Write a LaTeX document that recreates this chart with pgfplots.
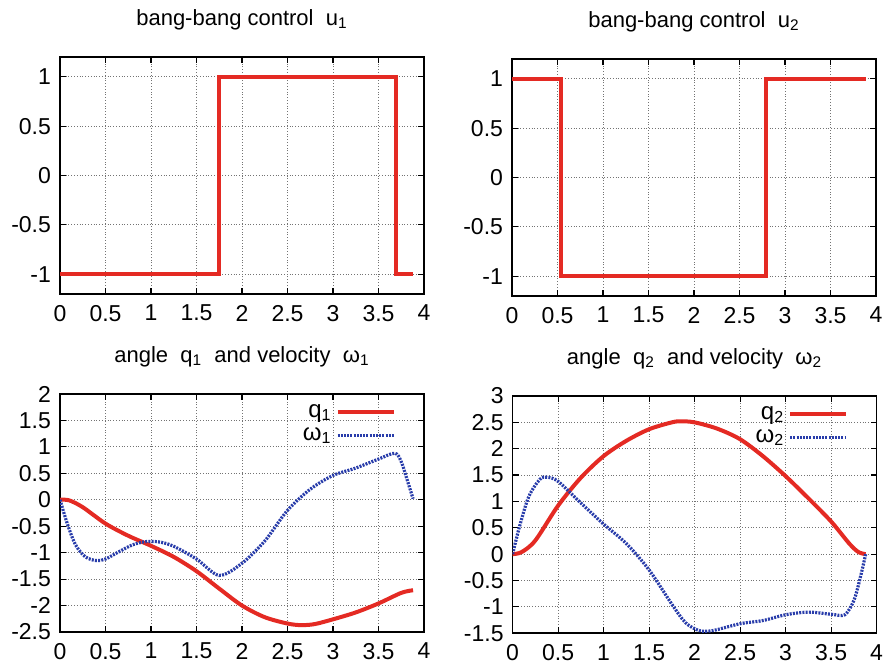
\documentclass[border=0pt]{standalone}
\usepackage{pgfplots}
\pgfplotsset{compat=1.18}
\usepackage{fontspec}
\setmainfont{Liberation Sans}

\definecolor{gpred}{RGB}{228,42,35}
\definecolor{gpblue}{RGB}{40,60,170}

\pgfplotsset{
  gp/.style={
    width=182pt, height=118.5pt, scale only axis,
    xmin=0, xmax=4, xtick={0,0.5,...,4},
    grid=major,
    grid style={densely dotted, black!55, line width=0.4pt},
    axis line style={line width=0.75pt},
    major tick length=3pt,
    tick style={black, line width=0.6pt},
    tick align=inside,
    tick label style={font=\fontsize{11.5pt}{13pt}\selectfont},
    /pgf/number format/assume math mode=true,
    /pgf/number format/fixed,
    xticklabel style={yshift=-2pt},
    yticklabel style={xshift=-1pt},
    title style={at={(0.5,1)}, anchor=center, yshift=12.5pt, font=\fontsize{11pt}{13pt}\selectfont},
    legend style={at={(1,1)}, anchor=north east, xshift=-11pt, yshift=-1pt,
      draw=none, fill=none, font=\fontsize{12pt}{14pt}\selectfont,
      legend cell align=right, row sep=-0.5pt},
    legend plot pos=right,
    legend image code/.code={\draw[#1] (0pt,0pt) -- (28pt,0pt);},
  },
  qline/.style={gpred, line width=2pt},
  wline/.style={gpblue, line width=1.6pt, dash pattern=on 1pt off 0.6pt},
}

\begin{document}
\begin{tikzpicture}
\path[use as bounding box] (0pt,0pt) rectangle (443.5pt,332.5pt);

% top left: u1
\begin{axis}[gp, at={(30pt,185.5pt)}, anchor=south west,
  ymin=-1.2, ymax=1.2, ytick={-1,-0.5,0,0.5,1},
  title={bang-bang control\ \ u\textsubscript{1}}]
\addplot[qline, sharp plot] coordinates {
  (0,-1) (1.745,-1) (1.745,1) (3.69,1) (3.69,-1) (3.88,-1)
};
\end{axis}

% top right: u2
\begin{axis}[gp, at={(256pt,184.5pt)}, anchor=south west,
  ymin=-1.2, ymax=1.2, ytick={-1,-0.5,0,0.5,1},
  title={bang-bang control\ \ u\textsubscript{2}}]
\addplot[qline] coordinates {
  (0,1) (0.535,1) (0.535,-1) (2.79,-1) (2.79,1) (3.887,1)
};
\end{axis}

% bottom left: q1, omega1
\begin{axis}[gp, at={(30pt,16.5pt)}, anchor=south west, height=119pt,
  ymin=-2.5, ymax=2, ytick={-2.5,-2,...,2},
  title={angle\ \ q\textsubscript{1}\ \ and velocity\ \ ω\textsubscript{1}}]
\addplot[qline, smooth] coordinates {
  (0,0) (0.1,-0.01) (0.25,-0.14) (0.5,-0.45) (0.75,-0.68) (1,-0.87)
  (1.25,-1.08) (1.5,-1.35) (1.75,-1.68) (2,-2.0) (2.25,-2.22)
  (2.5,-2.34) (2.65,-2.37) (2.8,-2.35) (3,-2.26) (3.25,-2.13)
  (3.5,-1.96) (3.75,-1.76) (3.88,-1.71)
};
\addlegendentry{q\textsubscript{1}}
\addplot[wline, smooth] coordinates {
  (0,0) (0.08,-0.45) (0.17,-0.85) (0.28,-1.08) (0.4,-1.15) (0.5,-1.12)
  (0.65,-0.98) (0.8,-0.85) (0.95,-0.79) (1.1,-0.8) (1.25,-0.88)
  (1.5,-1.12) (1.75,-1.43) (2,-1.2) (2.25,-0.78) (2.5,-0.2)
  (2.75,0.2) (3,0.46) (3.25,0.6) (3.5,0.77) (3.68,0.88) (3.75,0.72)
  (3.82,0.35) (3.88,0.02)
};
\addlegendentry{ω\textsubscript{1}}
\end{axis}

% bottom right: q2, omega2
\begin{axis}[gp, at={(256.3pt,15.9pt)}, anchor=south west, height=118.6pt,
  ymin=-1.5, ymax=3, ytick={-1.5,-1,...,3},
  title={angle\ \ q\textsubscript{2}\ \ and velocity\ \ ω\textsubscript{2}}]
\addplot[qline, smooth] coordinates {
  (0,0) (0.1,0.04) (0.25,0.26) (0.5,0.92) (0.75,1.45) (1,1.86)
  (1.25,2.15) (1.5,2.37) (1.75,2.5) (1.85,2.52) (2,2.5) (2.25,2.38)
  (2.5,2.18) (2.75,1.86) (3,1.48) (3.25,1.06) (3.5,0.62) (3.7,0.2)
  (3.8,0.04) (3.88,0)
};
\addlegendentry{q\textsubscript{2}}
\addplot[wline, smooth] coordinates {
  (0,0) (0.08,0.55) (0.18,1.1) (0.3,1.42) (0.38,1.46) (0.5,1.38)
  (0.75,0.97) (1,0.57) (1.25,0.2) (1.5,-0.3) (1.75,-0.95) (1.9,-1.3)
  (2.05,-1.45) (2.2,-1.45) (2.5,-1.32) (2.75,-1.26) (3,-1.15)
  (3.25,-1.1) (3.5,-1.14) (3.65,-1.15) (3.75,-0.88) (3.82,-0.45) (3.88,0)
};
\addlegendentry{ω\textsubscript{2}}
\end{axis}
\end{tikzpicture}
\end{document}
